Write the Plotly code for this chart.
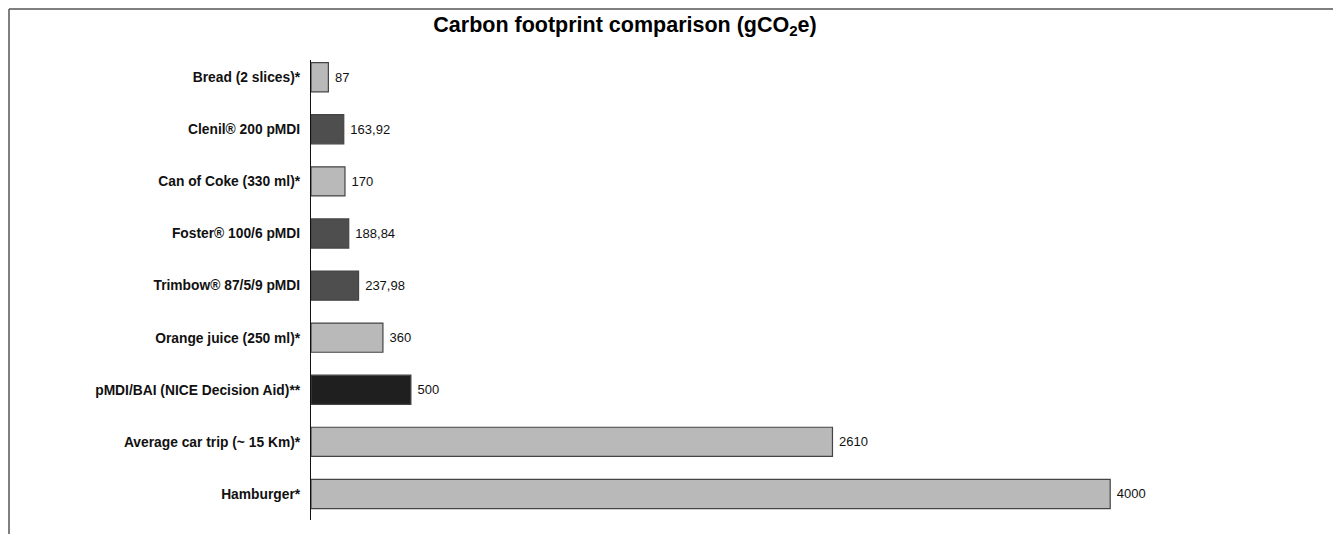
import plotly.graph_objects as go

categories = [
    "Bread (2 slices)*",
    "Clenil® 200 pMDI",
    "Can of Coke (330 ml)*",
    "Foster® 100/6 pMDI",
    "Trimbow® 87/5/9 pMDI",
    "Orange juice (250 ml)*",
    "pMDI/BAI (NICE Decision Aid)**",
    "Average car trip (~ 15 Km)*",
    "Hamburger*",
]
values = [87, 163.92, 170, 188.84, 237.98, 360, 500, 2610, 4000]
groups = ["food", "inhaler", "food", "inhaler", "inhaler", "food", "nice", "food", "food"]

color_map = {"food": "#b9b9b9", "inhaler": "#4e4e4e", "nice": "#1f1f1f"}
colors = [color_map[g] for g in groups]
texts = ["\u00a0" + f"{v:g}".replace(".", ",") for v in values]

font_family = "Liberation Sans, Arial, Helvetica, sans-serif"

fig = go.Figure(
    go.Bar(
        x=values,
        y=categories,
        orientation="h",
        width=0.56,
        marker=dict(color=colors, line=dict(color="#444444", width=1.2)),
        text=texts,
        textposition="outside",
        textfont=dict(family=font_family, size=13, color="#111111"),
        cliponaxis=False,
        hoverinfo="x+y",
    )
)

# page body has an 8px margin; size the figure to fit inside the window
OFF = 8
W, H = 1341 - 2 * OFF, 542 - 2 * OFF
ml = 311 - OFF
mr = W - (1310 - OFF)
mt = 60 - OFF
mb = H - (520 - OFF)
pw = W - ml - mr
ph = H - mt - mb

fig.update_layout(
    width=W,
    height=H,
    margin=dict(l=ml, r=mr, t=mt, b=mb, pad=0),
    paper_bgcolor="white",
    plot_bgcolor="white",
    showlegend=False,
    title=dict(
        text="<b>Carbon footprint comparison (gCO<sub>2</sub>e)</b>",
        x=(625 - OFF) / W,
        xanchor="center",
        y=1 - (24 - OFF) / H,
        yanchor="middle",
        font=dict(family=font_family, size=21.5, color="#000000"),
    ),
    xaxis=dict(
        range=[0, 5000],
        showgrid=False,
        zeroline=False,
        showticklabels=False,
        ticks="",
        showline=False,
    ),
    yaxis=dict(
        categoryorder="array",
        categoryarray=categories,
        range=[8.5, -0.33],
        showgrid=False,
        zeroline=False,
        ticks="",
        showline=True,
        linecolor="#111111",
        linewidth=1.2,
        ticklabelstandoff=7,
        tickfont=dict(family=font_family, size=13.8, color="#111111", weight="bold"),
    ),
)

# outer frame (top and left edges visible in reference)
x_left = (9 - 311) / pw
y_top = 1 + (60 - 9) / ph
fig.add_shape(type="line", xref="paper", yref="paper",
              x0=x_left, x1=1.2, y0=y_top, y1=y_top,
              line=dict(color="#555555", width=1.5))
fig.add_shape(type="line", xref="paper", yref="paper",
              x0=x_left, x1=x_left, y0=y_top, y1=-0.2,
              line=dict(color="#555555", width=1.5))

fig.write_html("out.html")
